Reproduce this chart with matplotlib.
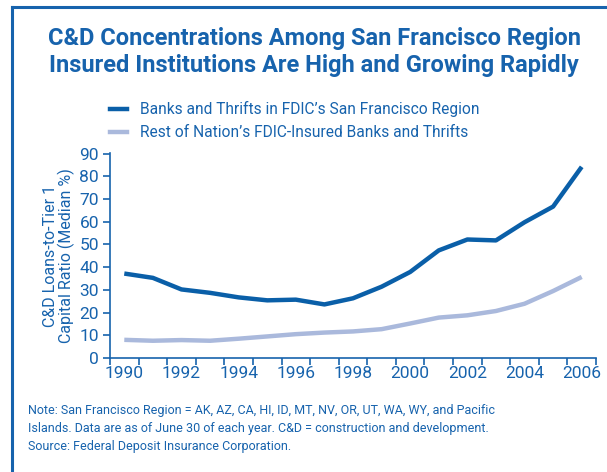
import matplotlib
matplotlib.use("Agg")
import matplotlib.pyplot as plt
from matplotlib.lines import Line2D

years = list(range(1990, 2007))
sf_region = [37.2, 35.3, 30.2, 28.7, 26.7, 25.4, 25.7, 23.6, 26.3, 31.4,
             37.9, 47.4, 52.2, 51.8, 59.8, 66.7, 84.2]
rest_nation = [8.0, 7.6, 7.9, 7.6, 8.5, 9.5, 10.5, 11.2, 11.7, 12.7,
               15.2, 17.8, 18.8, 20.7, 23.9, 29.5, 35.7]
tick_labels = [str(y) if y % 2 == 0 else "" for y in years]

title = "C&D Concentrations Among San Francisco Region\nInsured Institutions Are High and Growing Rapidly"
legend_labels = ["Banks and Thrifts in FDIC\u2019s San Francisco Region",
                 "Rest of Nation\u2019s FDIC-Insured Banks and Thrifts"]
ylabel = "C&D Loans-to-Tier 1\nCapital Ratio (Median %)"
note = ("Note: San Francisco Region = AK, AZ, CA, HI, ID, MT, NV, OR, UT, WA, WY, and Pacific\n"
        "Islands. Data are as of June 30 of each year. C&D = construction and development.\n"
        "Source: Federal Deposit Insurance Corporation.")

dark = "#0a5fa8"
light = "#aab9dc"
txt = "#1763ad"

plt.rcParams['font.family'] = ['Roboto', 'DejaVu Sans']

fig = plt.figure(figsize=(6.07, 4.72), dpi=100)
W, H = 607, 472
ax = fig.add_axes([110 / W, 1 - 358 / H, 486 / W, 205 / H])

x = range(len(years))
ax.plot(x, sf_region, color=dark, lw=3.2, solid_capstyle="butt")
ax.plot(x, rest_nation, color=light, lw=3.2, solid_capstyle="butt")

ax.set_xlim(-0.5, len(years) - 0.5)
ax.set_ylim(0, 90.3)
ax.set_yticks(range(0, 91, 10))
ax.set_xticks([i - 0.5 for i in range(len(years) + 1)], minor=False)
ax.set_xticklabels([])
ax.set_xticks(list(x), minor=True)
ax.set_xticklabels(tick_labels, minor=True)
ax.tick_params(axis="x", which="minor", length=0, pad=6, labelsize=12.5, labelcolor=txt)
ax.tick_params(axis="x", which="major", length=5, width=1.2, color=txt, direction="out")
ax.tick_params(axis="y", length=5, width=1.2, color=txt, labelsize=12.5, labelcolor=txt, pad=3)
for s in ["top", "right"]:
    ax.spines[s].set_visible(False)
for s in ["left", "bottom"]:
    ax.spines[s].set_color(txt)
    ax.spines[s].set_linewidth(1.2)
ax.set_ylabel(ylabel, color=txt, fontsize=11.5, labelpad=3, linespacing=1.0)

fig.text(314 / W, 1 - 52 / H, title, ha="center", va="center", fontsize=17,
         fontweight="bold", color=txt, linespacing=1.2)

handles = [Line2D([0], [0], color=dark, lw=3.2), Line2D([0], [0], color=light, lw=3.2)]
fig.legend(handles, legend_labels, loc="upper left", bbox_to_anchor=(104 / W, 1 - 95 / H),
           frameon=False, fontsize=11.2, labelcolor=txt, handlelength=1.1,
           handletextpad=0.8, labelspacing=0.5, borderaxespad=0)

fig.text(28 / W, 1 - 404 / H, note, ha="left", va="top", fontsize=9.0, color=txt,
         linespacing=1.5)

# frame around the exhibit (left and top edges)
fig.add_artist(Line2D([12 / W, 12 / W], [0, 1 - 7 / H], color=txt, lw=2.2,
                      transform=fig.transFigure))
fig.add_artist(Line2D([12 / W, 1], [1 - 7 / H, 1 - 7 / H], color=txt, lw=2.2,
                      transform=fig.transFigure))

fig.savefig("out.png", dpi=100)
